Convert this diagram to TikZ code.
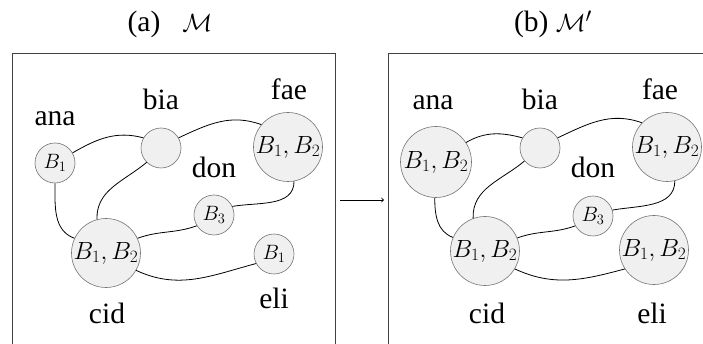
\documentclass[tikz,border=0pt]{standalone}
\usepackage{fontspec}
\setmainfont{Liberation Serif}
\begin{document}
\begin{tikzpicture}[x=1pt,y=1pt,
  agent/.style={circle,draw=black!55,fill=black!6,inner sep=0pt,line width=0.6pt},
  sm/.style={agent,minimum size=40pt,font=\fontsize{20}{20}\selectfont},
  bg/.style={agent,minimum size=69pt,font=\fontsize{24}{24}\selectfont},
  lbl/.style={anchor=base,inner sep=0pt,font=\fontsize{29.5}{29.5}\selectfont},
  link/.style={line width=0.8pt},
  frame/.style={draw=black!75,line width=1pt}]
\useasboundingbox (0,0) rectangle (703,-344);
\clip (0,0) rectangle (703,-344);
% titles
\node[lbl] (ta) at (170,-32) {(a)\hspace{0.75em}$\mathcal{M}$};
\node[lbl] (tb) at (553,-32) {(b) $\mathcal{M}'$};
% frames
\draw[frame] (12,-53.5) rectangle (335,-360);
\draw[frame] (388,-53.5) rectangle (720,-360);
\coordinate (arrS) at (340,-200);
\coordinate (arrE) at (384,-200);
\draw[line width=0.9pt,->] (arrS) -- (arrE);
% ---- panel (a)
\node[sm] (a1) at (55,-163) {$B_1$};
\node[sm] (b1) at (161,-148) {};
\node[bg] (f1) at (288,-147) {$B_1,B_2$};
\node[sm] (d1) at (214,-215) {$B_3$};
\node[bg] (c1) at (106,-253) {$B_1,B_2$};
\node[sm] (e1) at (274,-254) {$B_1$};
\node[lbl] (la1) at (55,-126) {ana};
\node[lbl] (lb1) at (161,-110) {bia};
\node[lbl] (lf1) at (289,-100) {fae};
\node[lbl] (ld1) at (214,-178) {don};
\node[lbl] (lc1) at (107,-323) {cid};
\node[lbl] (le1) at (274,-308) {eli};
\draw[link] (a1.30) to[out=30,in=165] (b1.150);
\draw[link] (b1.30) to[out=25,in=160] (f1.140);
\draw[link] (b1.-135) to[out=-140,in=92] (c1.105);
\draw[link] (a1.-90) to[out=-90,in=160] (c1.155);
\draw[link] (c1.25) to[out=20,in=200] (d1.212);
\draw[link] (d1.25) to[out=10,in=-90] (f1.-80);
\draw[link] (c1.-30) to[out=-25,in=195] (e1.208);
% ---- panel (b)
\node[bg,minimum size=71pt] (a2) at (436,-162) {$B_1,B_2$};
\node[sm] (b2) at (540,-148) {};
\node[bg] (f2) at (667,-147) {$B_1,B_2$};
\node[sm] (d2) at (593,-216) {$B_3$};
\node[bg] (c2) at (485,-251) {$B_1,B_2$};
\node[bg] (e2) at (654,-250) {$B_1,B_2$};
\node[lbl] (la2) at (433,-110) {ana};
\node[lbl] (lb2) at (540,-110) {bia};
\node[lbl] (lf2) at (660,-100) {fae};
\node[lbl] (ld2) at (593,-178) {don};
\node[lbl] (lc2) at (487,-323) {cid};
\node[lbl] (le2) at (652,-323) {eli};
\draw[link] (a2.33) to[out=30,in=165] (b2.150);
\draw[link] (b2.30) to[out=25,in=160] (f2.136);
\draw[link] (b2.-140) to[out=-140,in=92] (c2.110);
\draw[link] (a2.-92) to[out=-90,in=160] (c2.157);
\draw[link] (c2.22) to[out=20,in=200] (d2.209);
\draw[link] (d2.17) to[out=10,in=-90] (f2.-77);
\draw[link] (c2.-31) to[out=-25,in=195] (e2.213);
\end{tikzpicture}
\end{document}
